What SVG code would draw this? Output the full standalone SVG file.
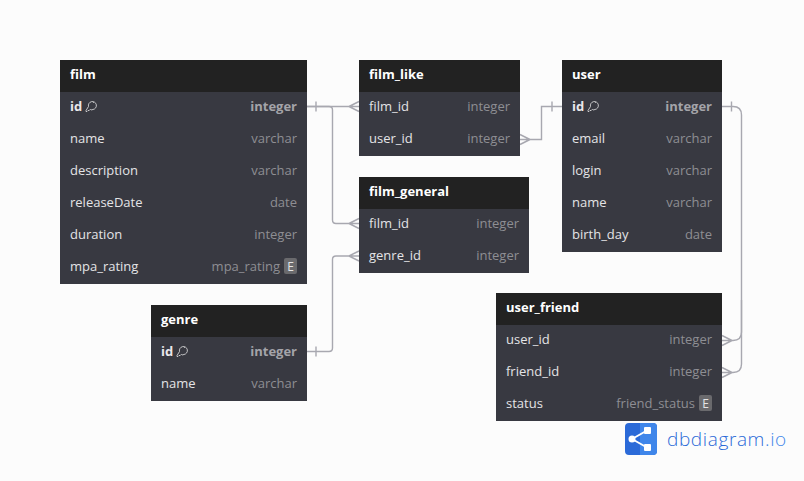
<svg xmlns="http://www.w3.org/2000/svg" width="804" height="481" viewBox="0 0 804 481">
<defs>
<g id="key"><path d="M-5 5.500 L-2.500 1.500 A4 4 0 1 1 2 4.500 L0 5 L-0.500 4.500 L-1.500 5 L-2 5.500 L-3 5.500 L-4 6.500 L-5 6.500 Z M2 -2.500 h0.800" fill="none" stroke="#e4e4e4" stroke-width="0.8" transform="translate(0,-1)"/></g>
</defs>
<style>
text{font-family:"Open Sans","Noto Sans","DejaVu Sans",sans-serif;font-size:13px}
.b{fill:#383941}
.h{fill:#222222}
.t{fill:#ffffff;font-weight:700}
.n{fill:#e4e4e6}
.k{fill:#e8e8ea;font-weight:700}
.y{fill:#8e8e93;text-anchor:end}
.yk{fill:#a4a4a9;text-anchor:end;font-weight:700}
.e{fill:#6a6a6d}
.et{fill:#e4e4e6;font-size:12px;text-anchor:middle}
.c{fill:none;stroke:#a8a8b0;stroke-width:1.4}
</style>
<rect width="804" height="481" fill="#fcfcfc"/>
<g id="connectors" class="c">
<path d="M307 106.500H359M316 101.500V111.500M349 106.500L359 101.500M349 106.500L359 111.500"/>
<path d="M307 106.500H329Q332.500 106.500 332.500 110V220Q332.500 223.500 336 223.500H359M349 223.500L359 218.500M349 223.500L359 228.500"/>
<path d="M307 351.500H329Q332.500 351.500 332.500 348V259.500Q332.500 256 336 256H359M349 256L359 251M349 256L359 261M316 346.500V356.500"/>
<path d="M520 139.500H541.500V106.500H562M530 139.500L520 134.500M530 139.500L520 144.500M552 101.500V111.500"/>
<path d="M722 106.500H733Q741.500 106.500 741.500 115V332Q741.500 340.500 733 340.500H722M732 340.500L722 335.500M732 340.500L722 345.500M731.500 101.500V111.500"/>
<path d="M741.500 300V364Q741.500 372.500 733 372.500H722M732 372.500L722 367.500M732 372.500L722 377.500"/>
</g>
<g id="film">
<rect class="b" x="60" y="60" width="247" height="224"/><rect class="h" x="60" y="60" width="247" height="32"/>
<text class="t" x="70" y="79">film</text>
<text class="k" x="70" y="111">id</text><use href="#key" x="91" y="106"/><text class="yk" x="297" y="111">integer</text>
<text class="n" x="70" y="143">name</text><text class="y" x="297" y="143">varchar</text>
<text class="n" x="70" y="175">description</text><text class="y" x="297" y="175">varchar</text>
<text class="n" x="70" y="207">releaseDate</text><text class="y" x="297" y="207">date</text>
<text class="n" x="70" y="239">duration</text><text class="y" x="297" y="239">integer</text>
<text class="n" x="70" y="271">mpa_rating</text><text class="y" x="280" y="271">mpa_rating</text>
<rect class="e" x="284" y="258" width="13" height="16" rx="2"/><text class="et" x="290.500" y="271">E</text>
</g>
<g id="film_like">
<rect class="b" x="359" y="60" width="161" height="96"/><rect class="h" x="359" y="60" width="161" height="32"/>
<text class="t" x="369" y="79">film_like</text>
<text class="n" x="369" y="111">film_id</text><text class="y" x="510" y="111">integer</text>
<text class="n" x="369" y="143">user_id</text><text class="y" x="510" y="143">integer</text>
</g>
<g id="user">
<rect class="b" x="562" y="60" width="160" height="192"/><rect class="h" x="562" y="60" width="160" height="32"/>
<text class="t" x="572" y="79">user</text>
<text class="k" x="572" y="111">id</text><use href="#key" x="593" y="106"/><text class="yk" x="712" y="111">integer</text>
<text class="n" x="572" y="143">email</text><text class="y" x="712" y="143">varchar</text>
<text class="n" x="572" y="175">login</text><text class="y" x="712" y="175">varchar</text>
<text class="n" x="572" y="207">name</text><text class="y" x="712" y="207">varchar</text>
<text class="n" x="572" y="239">birth_day</text><text class="y" x="712" y="239">date</text>
</g>
<g id="film_general">
<rect class="b" x="359" y="177" width="170" height="96"/><rect class="h" x="359" y="177" width="170" height="32"/>
<text class="t" x="369" y="196">film_general</text>
<text class="n" x="369" y="228">film_id</text><text class="y" x="519" y="228">integer</text>
<text class="n" x="369" y="260">genre_id</text><text class="y" x="519" y="260">integer</text>
</g>
<g id="genre">
<rect class="b" x="151" y="305" width="156" height="96"/><rect class="h" x="151" y="305" width="156" height="32"/>
<text class="t" x="161" y="324">genre</text>
<text class="k" x="161" y="356">id</text><use href="#key" x="182" y="351"/><text class="yk" x="297" y="356">integer</text>
<text class="n" x="161" y="388">name</text><text class="y" x="297" y="388">varchar</text>
</g>
<g id="user_friend">
<rect class="b" x="496" y="293" width="226" height="128"/><rect class="h" x="496" y="293" width="226" height="32"/>
<text class="t" x="506" y="312">user_friend</text>
<text class="n" x="506" y="344">user_id</text><text class="y" x="712" y="344">integer</text>
<text class="n" x="506" y="376">friend_id</text><text class="y" x="712" y="376">integer</text>
<text class="n" x="506" y="408">status</text><text class="y" x="695" y="408">friend_status</text>
<rect class="e" x="699" y="395" width="13" height="16" rx="2"/><text class="et" x="705.500" y="408">E</text>
</g>
<g id="logo">
<rect x="625" y="423" width="32" height="32" rx="4" fill="#2b6ad8"/>
<path d="M640 423H653a4 4 0 0 1 4 4V451a4 4 0 0 1-4 4H640Z" fill="#3f86ea"/>
<path d="M632 439L647 430.500M632 439L647 447.500" stroke="#fff" stroke-width="2" fill="none"/>
<circle cx="632" cy="439" r="3.500" fill="#fff"/><rect x="644" y="427" width="7" height="7" rx="1" fill="#fff"/><rect x="644" y="444" width="7" height="7" rx="1" fill="#fff"/>
<text x="667" y="446" style="font-size:19px;font-weight:300;letter-spacing:0.620px" fill="#2b6ad8">dbdiagram<tspan fill="#3f86ea">.io</tspan></text>
</g>
</svg>
